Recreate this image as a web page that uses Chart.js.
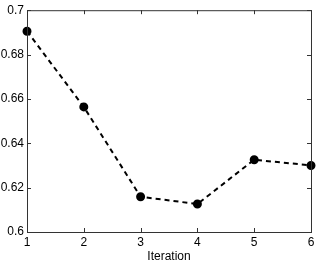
<!DOCTYPE html>
<html>
<head>
<meta charset="utf-8">
<script src="https://cdn.jsdelivr.net/npm/chart.js@4"></script>
<style>
  html, body { margin: 0; padding: 0; background: #fff; }
  #wrap { width: 327px; height: 264px; }
</style>
</head>
<body>
<div id="wrap"><canvas id="chart" width="327" height="264"></canvas></div>
<script>
const iterations = [1, 2, 3, 4, 5, 6];
const values = [0.6905, 0.6564, 0.6159, 0.6126, 0.6326, 0.6300];
const xTicks = [1, 2, 3, 4, 5, 6];
const yTicks = [0.6, 0.62, 0.64, 0.66, 0.68, 0.7];

// matlab style: box + ticks pointing inward on all four sides
const boxTicks = {
  id: "boxTicks",
  afterDraw(chart) {
    const ctx = chart.ctx;
    const a = chart.chartArea;
    const xs = chart.scales.x, ys = chart.scales.y;
    const len = 4;
    ctx.save();
    ctx.strokeStyle = "#333";
    ctx.lineWidth = 1;
    ctx.strokeRect(a.left + 0.5, a.top + 0.5, a.right - a.left, a.bottom - a.top);
    ctx.beginPath();
    xTicks.forEach(v => {
      const px = Math.round(xs.getPixelForValue(v)) + 0.5;
      ctx.moveTo(px, a.bottom); ctx.lineTo(px, a.bottom - len);
      ctx.moveTo(px, a.top); ctx.lineTo(px, a.top + len);
    });
    yTicks.forEach(v => {
      const py = Math.round(ys.getPixelForValue(v)) + 0.5;
      ctx.moveTo(a.left, py); ctx.lineTo(a.left + len, py);
      ctx.moveTo(a.right, py); ctx.lineTo(a.right - len, py);
    });
    ctx.stroke();
    ctx.restore();
  }
};

const font = { family: "'Liberation Sans', Arial, sans-serif", size: 12 };

new Chart(document.getElementById("chart").getContext("2d"), {
  type: "scatter",
  data: {
    datasets: [{
      data: iterations.map((x, i) => ({ x: x, y: values[i] })),
      showLine: true,
      borderColor: "#000",
      borderWidth: 2,
      borderDash: [5, 4],
      backgroundColor: "#000",
      pointRadius: 3.5,
      pointHoverRadius: 3.5,
      clip: false,
    }],
  },
  options: {
    responsive: false,
    animation: false,
    layout: { padding: { top: 10, right: 16, left: 0, bottom: 0 } },
    plugins: { legend: { display: false }, tooltip: { enabled: false } },
    scales: {
      x: {
        type: "linear",
        min: 1,
        max: 6,
        afterBuildTicks: s => { s.ticks = xTicks.map(v => ({ value: v })); },
        afterFit: s => { s.height = 32; },
        grid: { display: false, drawTicks: false },
        border: { display: false },
        ticks: { color: "#000", font: font, padding: 3, maxRotation: 0 },
        title: { display: true, text: "Iteration", color: "#000", font: font, padding: { top: 0, bottom: 0 } },
      },
      y: {
        min: 0.6,
        max: 0.7,
        afterBuildTicks: s => { s.ticks = yTicks.map(v => ({ value: v })); },
        afterFit: s => { s.width = 27; },
        grid: { display: false, drawTicks: false },
        border: { display: false },
        ticks: { color: "#000", font: font, padding: 3, callback: v => String(+v.toFixed(2)) },
      },
    },
  },
  plugins: [boxTicks],
});
</script>
</body>
</html>
